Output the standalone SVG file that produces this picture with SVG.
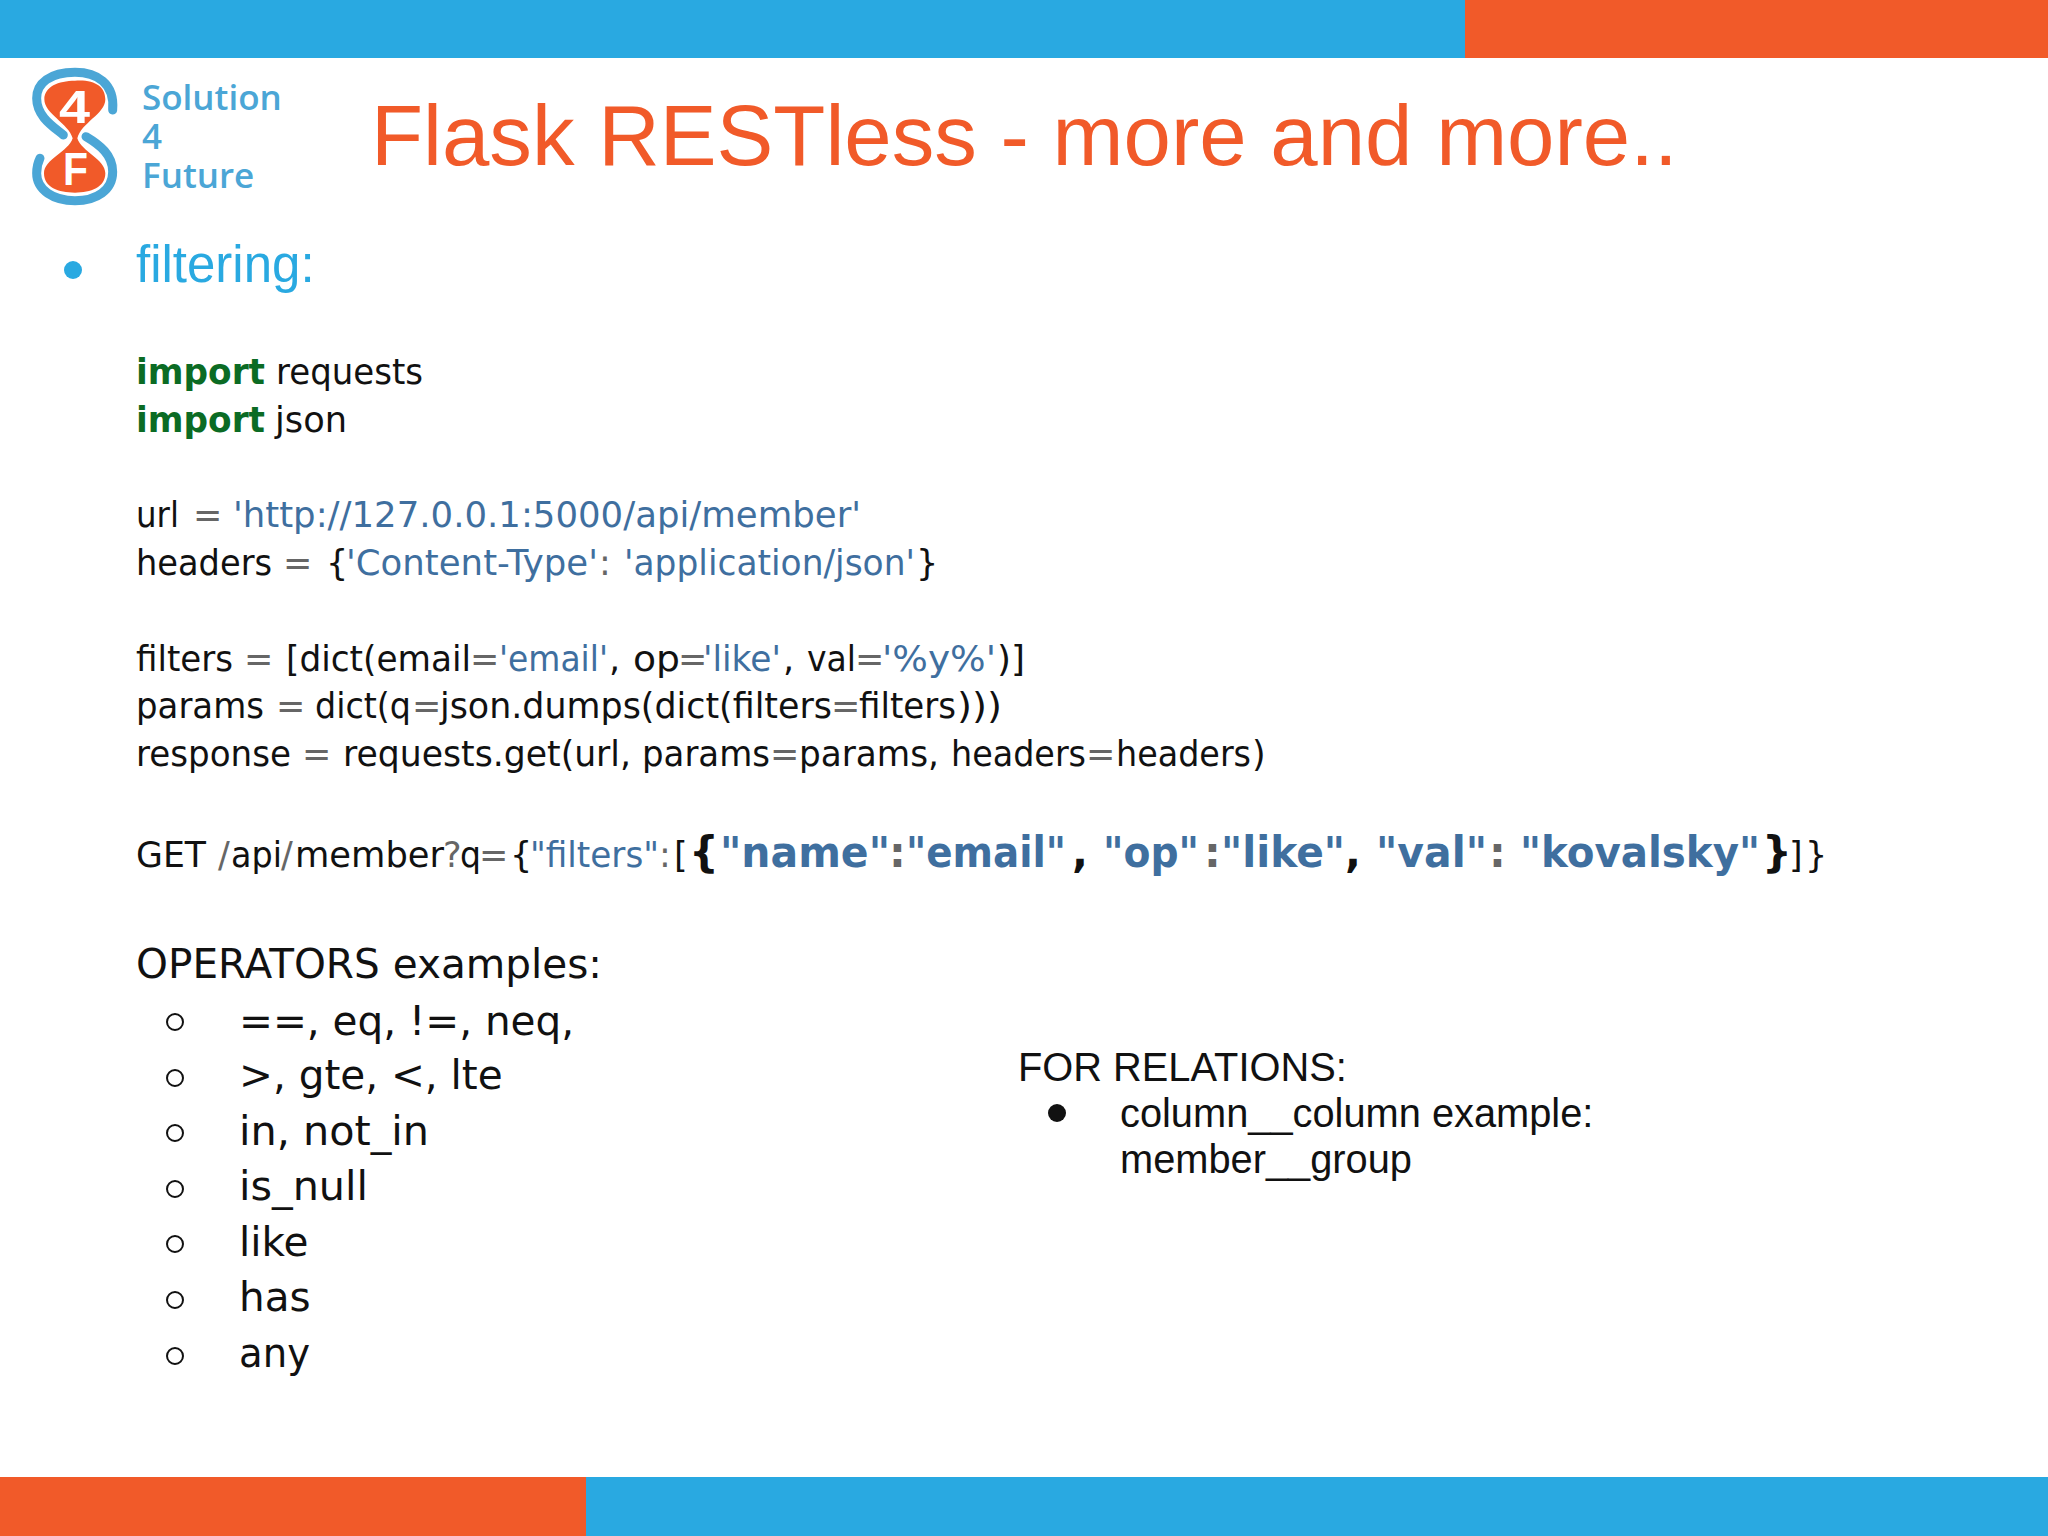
<svg xmlns="http://www.w3.org/2000/svg" width="2048" height="1536" viewBox="0 0 2048 1536">
<style>
.code{font-family:"DejaVu Sans",sans-serif;font-size:35px;fill:#111}
.k{fill:#0b6b24;font-weight:bold}
.s{fill:#3f6f9f}
.o{fill:#666}
.b{font-weight:bold;font-size:42px}
.lab{font-family:"Liberation Sans",sans-serif;fill:#111;font-size:39.8px}
.op{font-family:"DejaVu Sans",sans-serif;fill:#111;font-size:40.5px}
.logo{font-family:"Open Sans",sans-serif;font-weight:600;font-size:35px;fill:#4ba6d6}
.lt{font-family:"Liberation Sans",sans-serif;font-weight:bold;font-size:46px;fill:#fff}
</style>
<rect width="2048" height="1536" fill="#fff"/>
<g id="bars">
<rect x="0" y="0" width="1465" height="58" fill="#29a9e1"/>
<rect x="1465" y="0" width="583" height="58" fill="#f15a29"/>
<rect x="0" y="1477" width="586" height="59" fill="#f15a29"/>
<rect x="586" y="1477" width="1462" height="59" fill="#29a9e1"/>
</g>
<g id="logo">
<g transform="translate(0,40) scale(.33333)">
<path d="M225,122C285,118 316,140 316,178C316,222 244,248 232,295C244,335 316,358 316,400C316,442 272,458 225,458C175,458 132,442 132,400C132,358 206,335 218,295C206,250 133,222 133,178C133,140 175,122 225,122Z" fill="#f15a29"/>
<path d="M338,210C345,130 290,97 225,97C150,97 110,130 110,175C110,230 160,260 190,285M258,290C300,315 338,345 338,395C338,450 290,482 225,482C160,482 110,450 110,400C110,380 115,365 120,355" fill="none" stroke="#4ba6d6" stroke-width="27" stroke-linecap="round"/>
</g>
<text class="lt" x="59" y="123" textLength="31" lengthAdjust="spacingAndGlyphs">4</text>
<text class="lt" x="63" y="185" textLength="25" lengthAdjust="spacingAndGlyphs">F</text>
<text class="logo" x="142" y="110">Solution</text>
<text class="logo" x="142" y="149">4</text>
<text class="logo" x="142" y="188">Future</text>
</g>
<text id="title" x="371" y="165" font-family="Liberation Sans,sans-serif" font-size="85.2" fill="#f15a29">Flask RESTless - more and more..</text>
<g id="heading">
<circle cx="73" cy="270" r="9" fill="#29a9e1"/>
<text x="136" y="282" font-family="Liberation Sans,sans-serif" font-size="51" fill="#29a9e1">filtering:</text>
</g>
<g id="code">
<text class="code" y="384"><tspan class="k" x="136" textLength="129" lengthAdjust="spacingAndGlyphs">import</tspan><tspan x="276" textLength="147" lengthAdjust="spacingAndGlyphs">requests</tspan></text>
<text class="code" y="432"><tspan class="k" x="136" textLength="129" lengthAdjust="spacingAndGlyphs">import</tspan><tspan x="275" textLength="72" lengthAdjust="spacingAndGlyphs">json</tspan></text>
<text class="code" y="527"><tspan x="136" textLength="43" lengthAdjust="spacingAndGlyphs">url</tspan><tspan class="o" x="193">=</tspan><tspan class="s" x="233" textLength="628" lengthAdjust="spacingAndGlyphs">'http://127.0.0.1:5000/api/member'</tspan></text>
<text class="code" y="575"><tspan x="136" textLength="136" lengthAdjust="spacingAndGlyphs">headers</tspan><tspan class="o" x="283">=</tspan><tspan x="326">{</tspan><tspan class="s" x="346" textLength="252" lengthAdjust="spacingAndGlyphs">'Content-Type'</tspan><tspan class="o" x="599">:</tspan><tspan class="s" x="624" textLength="291" lengthAdjust="spacingAndGlyphs">'application/json'</tspan><tspan x="916">}</tspan></text>
<text class="code" y="671"><tspan x="136" textLength="97" lengthAdjust="spacingAndGlyphs">filters</tspan><tspan class="o" x="244">=</tspan><tspan x="286" textLength="185" lengthAdjust="spacingAndGlyphs">[dict(email</tspan><tspan class="o" x="470">=</tspan><tspan class="s" x="499" textLength="109" lengthAdjust="spacingAndGlyphs">'email'</tspan><tspan x="609">,</tspan><tspan x="633" textLength="47" lengthAdjust="spacingAndGlyphs">op</tspan><tspan class="o" x="678">=</tspan><tspan class="s" x="703" textLength="78" lengthAdjust="spacingAndGlyphs">'like'</tspan><tspan x="783">,</tspan><tspan x="807" textLength="49" lengthAdjust="spacingAndGlyphs">val</tspan><tspan class="o" x="855">=</tspan><tspan class="s" x="882" textLength="114" lengthAdjust="spacingAndGlyphs">'%y%'</tspan><tspan x="997" textLength="28" lengthAdjust="spacingAndGlyphs">)]</tspan></text>
<text class="code" y="718"><tspan x="136" textLength="128" lengthAdjust="spacingAndGlyphs">params</tspan><tspan class="o" x="276">=</tspan><tspan x="315" textLength="96" lengthAdjust="spacingAndGlyphs">dict(q</tspan><tspan class="o" x="412">=</tspan><tspan x="440" textLength="392" lengthAdjust="spacingAndGlyphs">json.dumps(dict(filters</tspan><tspan class="o" x="831">=</tspan><tspan x="859" textLength="97" lengthAdjust="spacingAndGlyphs">filters</tspan><tspan x="957" textLength="45" lengthAdjust="spacingAndGlyphs">)))</tspan></text>
<text class="code" y="766"><tspan x="136" textLength="155" lengthAdjust="spacingAndGlyphs">response</tspan><tspan class="o" x="302">=</tspan><tspan x="343" textLength="288" lengthAdjust="spacingAndGlyphs">requests.get(url,</tspan><tspan x="642" textLength="128" lengthAdjust="spacingAndGlyphs">params</tspan><tspan class="o" x="770">=</tspan><tspan x="799" textLength="140" lengthAdjust="spacingAndGlyphs">params,</tspan><tspan x="951" textLength="135" lengthAdjust="spacingAndGlyphs">headers</tspan><tspan class="o" x="1086">=</tspan><tspan x="1116" textLength="135" lengthAdjust="spacingAndGlyphs">headers</tspan><tspan x="1252">)</tspan></text>
<text class="code" y="867"><tspan x="136" textLength="70" lengthAdjust="spacingAndGlyphs">GET</tspan><tspan class="o" x="218">/</tspan><tspan x="231" textLength="51" lengthAdjust="spacingAndGlyphs">api</tspan><tspan class="o" x="281">/</tspan><tspan x="295" textLength="149" lengthAdjust="spacingAndGlyphs">member</tspan><tspan class="o" x="443">?</tspan><tspan x="460" textLength="21" lengthAdjust="spacingAndGlyphs">q</tspan><tspan class="o" x="479">=</tspan><tspan x="510">{</tspan><tspan class="s" x="530" textLength="129" lengthAdjust="spacingAndGlyphs">"filters"</tspan><tspan class="o" x="659">:</tspan><tspan x="674">[</tspan><tspan class="b" x="689">{</tspan><tspan class="b s" x="720" textLength="170" lengthAdjust="spacingAndGlyphs">"name"</tspan><tspan class="b o" x="889">:</tspan><tspan class="b s" x="906" textLength="160" lengthAdjust="spacingAndGlyphs">"email"</tspan><tspan class="b" x="1072">,</tspan><tspan class="b s" x="1103" textLength="96" lengthAdjust="spacingAndGlyphs">"op"</tspan><tspan class="b o" x="1204">:</tspan><tspan class="b s" x="1221" textLength="124" lengthAdjust="spacingAndGlyphs">"like"</tspan><tspan class="b" x="1345">,</tspan><tspan class="b s" x="1376" textLength="111" lengthAdjust="spacingAndGlyphs">"val"</tspan><tspan class="b o" x="1489">:</tspan><tspan class="b s" x="1520" textLength="240" lengthAdjust="spacingAndGlyphs">"kovalsky"</tspan><tspan class="b" x="1762">}</tspan><tspan x="1789">]</tspan><tspan x="1805">}</tspan></text>
</g>
<g id="operators">
<text class="op" x="136" y="978" textLength="466" lengthAdjust="spacingAndGlyphs">OPERATORS examples:</text>
<g fill="none" stroke="#111" stroke-width="2">
<circle cx="175" cy="1022" r="8"/><circle cx="175" cy="1078" r="8"/><circle cx="175" cy="1133" r="8"/><circle cx="175" cy="1189" r="8"/><circle cx="175" cy="1244" r="8"/><circle cx="175" cy="1300" r="8"/><circle cx="175" cy="1356" r="8"/>
</g>
<text class="op" x="239" y="1035">==, eq, !=, neq,</text>
<text class="op" x="239" y="1089">&gt;, gte, &lt;, lte</text>
<text class="op" x="239" y="1145" textLength="190" lengthAdjust="spacingAndGlyphs">in, not_in</text>
<text class="op" x="239" y="1200" textLength="129" lengthAdjust="spacingAndGlyphs">is_null</text>
<text class="op" x="239" y="1256">like</text>
<text class="op" x="239" y="1311">has</text>
<text class="op" x="239" y="1367" textLength="71" lengthAdjust="spacingAndGlyphs">any</text>
</g>
<g id="relations">
<text class="lab" x="1018" y="1081">FOR RELATIONS:</text>
<circle cx="1057" cy="1113" r="9" fill="#111"/>
<text class="lab" x="1120" y="1127">column__column example:</text>
<text class="lab" x="1120" y="1173">member__group</text>
</g>
</svg>
